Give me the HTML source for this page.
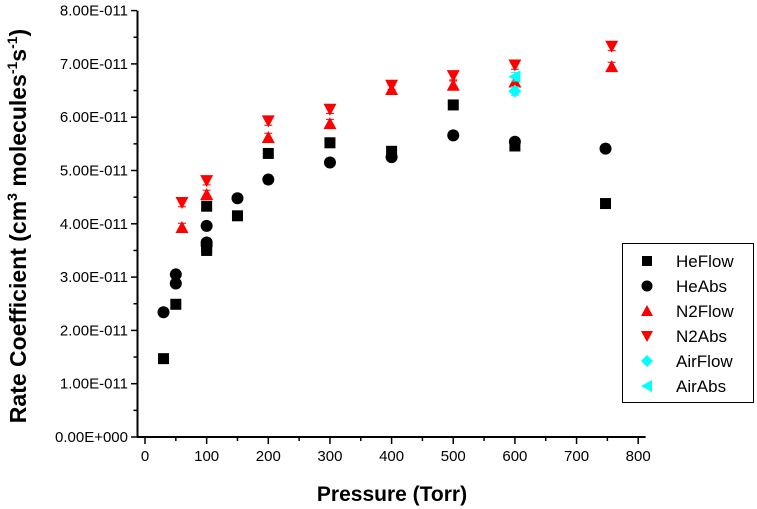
<!DOCTYPE html>
<html><head><meta charset="utf-8">
<style>
html,body{margin:0;padding:0;background:#fff;}
svg{display:block;font-family:"Liberation Sans",Arial,sans-serif;}
</style></head>
<body>
<svg id="chart" width="757" height="509" viewBox="0 0 757 509" xmlns="http://www.w3.org/2000/svg">
<g id="axes"></g>
<g id="marks"></g>
<text x="392" y="501" text-anchor="middle" font-size="21" font-weight="bold">Pressure (Torr)</text>
<text transform="translate(26,226) rotate(-90)" text-anchor="middle" font-size="23" font-weight="bold">Rate Coefficient (cm<tspan font-size="14" dy="-9">3</tspan><tspan dy="9"> molecules</tspan><tspan font-size="14" dy="-9">-1</tspan><tspan dy="9">s</tspan><tspan font-size="14" dy="-9">-1</tspan><tspan dy="9">)</tspan></text>
<g id="legend"></g>
</svg>
<script>
const xTicks = [0,100,200,300,400,500,600,700,800];
const yTicks = [0,1,2,3,4,5,6,7,8];
const yTickLabels = ["0.00E+000","1.00E-011","2.00E-011","3.00E-011","4.00E-011","5.00E-011","6.00E-011","7.00E-011","8.00E-011"];
const seriesNames = ["HeFlow","HeAbs","N2Flow","N2Abs","AirFlow","AirAbs"];
const heFlowX = [30,50,100,100,100,150,200,300,400,500,600,747];
const heFlowY = [1.47,2.49,4.33,3.55,3.50,4.15,5.32,5.52,5.36,6.23,5.46,4.38];
const heAbsX = [30,50,50,100,100,100,150,200,300,400,500,600,747];
const heAbsY = [2.34,3.05,2.88,3.96,3.65,3.60,4.48,4.83,5.15,5.25,5.66,5.54,5.41];
const n2FlowX = [60,100,200,300,400,500,600,757];
const n2FlowY = [3.93,4.55,5.62,5.88,6.52,6.60,6.66,6.95];
const n2AbsX = [60,100,200,300,400,500,600,757];
const n2AbsY = [4.40,4.81,5.93,6.15,6.60,6.78,6.98,7.33];
const airFlowX = [600];
const airFlowY = [6.49];
const airAbsX = [600];
const airAbsY = [6.76];
const errSmall = 0.08;

const NS="http://www.w3.org/2000/svg";
const X0=145, XS=0.6165, Y0=437, YS=53.3;
function xs(v){return X0+v*XS;}
function ys(v){return Y0-v*YS;}
function mk(tag,attrs,parent){const e=document.createElementNS(NS,tag);for(const k in attrs)e.setAttribute(k,attrs[k]);parent.appendChild(e);return e;}

const axes=document.getElementById('axes');
const yl=mk('line',{x1:137.5,y1:ys(8),x2:137.5,y2:Y0+0.5,stroke:'#000','stroke-width':2},axes);


const xl=mk('line',{x1:137,y1:Y0,x2:xs(812),y2:Y0,stroke:'#000','stroke-width':2},axes);


yTicks.forEach((t,i)=>{
  const tk=mk('line',{x1:131,y1:ys(t),x2:137,y2:ys(t),stroke:'#000','stroke-width':1.5},axes);
  
  
  if(i<yTicks.length-1){
    const mn=mk('line',{x1:133.5,y1:ys(t+0.5),x2:137,y2:ys(t+0.5),stroke:'#000','stroke-width':1.5},axes);
    
    
  }
  const tx=mk('text',{x:128,y:ys(t)+5,'text-anchor':'end','font-size':15},axes);
  tx.textContent=yTickLabels[i];
  
  
});
xTicks.forEach((t,i)=>{
  const tk=mk('line',{x1:xs(t),y1:Y0,x2:xs(t),y2:Y0+7,stroke:'#000','stroke-width':1.5},axes);
  
  
  if(i<xTicks.length-1){
    const mn=mk('line',{x1:xs(t+50),y1:Y0,x2:xs(t+50),y2:Y0+4,stroke:'#000','stroke-width':1.5},axes);
    
    
  }
  const tx=mk('text',{x:xs(t),y:461,'text-anchor':'middle','font-size':15},axes);
  tx.textContent=String(t);
  
  
});

function marker(shape,cx,cy,color,parent,s){
  s=s||5.5;
  if(shape==='square') return mk('rect',{x:cx-s,y:cy-s,width:2*s,height:2*s,fill:color},parent);
  if(shape==='circle') return mk('circle',{cx:cx,cy:cy,r:s+0.5,fill:color},parent);
  if(shape==='up') return mk('polygon',{points:`${cx},${cy-s-1} ${cx-s-1},${cy+s} ${cx+s+1},${cy+s}`,fill:color},parent);
  if(shape==='down') return mk('polygon',{points:`${cx},${cy+s+1} ${cx-s-1},${cy-s} ${cx+s+1},${cy-s}`,fill:color},parent);
  if(shape==='diamond') return mk('polygon',{points:`${cx},${cy-s-1} ${cx+s+1},${cy} ${cx},${cy+s+1} ${cx-s-1},${cy}`,fill:color},parent);
  if(shape==='left') return mk('polygon',{points:`${cx-s-1},${cy} ${cx+s},${cy-s-1} ${cx+s},${cy+s+1}`,fill:color},parent);
}
const series=[
  {xs:heFlowX,ys:heFlowY,shape:'square',color:'#000'},
  {xs:heAbsX,ys:heAbsY,shape:'circle',color:'#000'},
  {xs:n2FlowX,ys:n2FlowY,shape:'up',color:'#ff0000'},
  {xs:n2AbsX,ys:n2AbsY,shape:'down',color:'#ff0000'},
  {xs:airFlowX,ys:airFlowY,shape:'diamond',color:'#00ffff'},
  {xs:airAbsX,ys:airAbsY,shape:'left',color:'#00ffff'}
];
const marks=document.getElementById('marks');
series.forEach((s,si)=>{
  const g=mk('g',{},marks);
  
  
  s.xs.forEach((xv,i)=>{
    const cx=xs(xv), cy=ys(s.ys[i]);
    const ecol=s.color==='#000'?'#555':s.color;
    const eb=mk('path',{d:`M${cx},${ys(s.ys[i]+errSmall)}V${ys(s.ys[i]-errSmall)}M${cx-4},${ys(s.ys[i]+errSmall)}h8M${cx-4},${ys(s.ys[i]-errSmall)}h8`,stroke:ecol,'stroke-width':1,fill:'none'},g);
    
    
    const m=marker(s.shape,cx,cy,s.color,g);
    
    
  });
});

const lg=document.getElementById('legend');
const box=mk('rect',{x:622.5,y:243.5,width:131,height:159,fill:'#fff',stroke:'#000','stroke-width':1},lg);


series.forEach((s,si)=>{
  const y=261+si*25;
  const g=mk('g',{},lg);
  
  
  marker(s.shape,647,y,s.color,g,5);
  const t=mk('text',{x:676,y:y+6,'font-size':17},g);
  t.textContent=seriesNames[si];
});
</script>
</body></html>
